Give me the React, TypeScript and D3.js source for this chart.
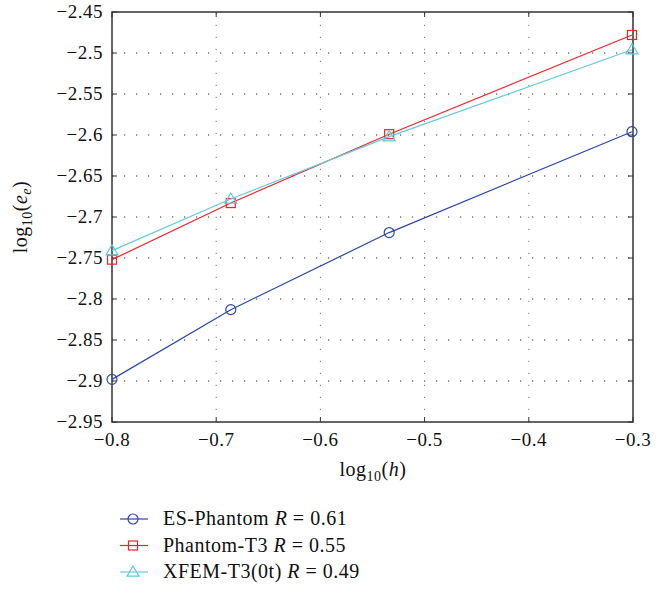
import React from "react";
import * as d3 from "d3";

const xValues = [-0.8, -0.686, -0.534, -0.301];
const esPhantom = [-2.898, -2.813, -2.719, -2.596];
const phantomT3 = [-2.752, -2.683, -2.599, -2.478];
const xfemT3 = [-2.741, -2.678, -2.602, -2.496];
const xTicks = [-0.8, -0.7, -0.6, -0.5, -0.4, -0.3];
const yTicks = [-2.45, -2.5, -2.55, -2.6, -2.65, -2.7, -2.75, -2.8, -2.85, -2.9, -2.95];
const seriesNames = ["ES-Phantom", "Phantom-T3", "XFEM-T3(0t)"];
const seriesR = ["0.61", "0.55", "0.49"];

const W = 666, H = 589;
const L = 112, R = 633, T = 12, B = 422;
const FONT = "Liberation Serif, DejaVu Serif, Times New Roman, serif";
const AX = "#333";

const colors = ["#2b47a6", "#ee2328", "#62c9db"];
const markers = ["circle", "square", "triangle"];

function Marker({ type, x, y, color }: { type: string; x: number; y: number; color: string }) {
  if (type === "circle") return <circle cx={x} cy={y} r={5} fill="none" stroke={color} strokeWidth={1.2} />;
  if (type === "square") return <rect x={x - 4.5} y={y - 4.5} width={9} height={9} fill="none" stroke={color} strokeWidth={1.2} />;
  const s = 6;
  return <path d={`M${x},${y - s} L${x + s},${y + s * 0.7} L${x - s},${y + s * 0.7} Z`} fill="none" stroke={color} strokeWidth={1.2} />;
}

export default function App() {
  const x = d3.scaleLinear().domain([-0.8, -0.3]).range([L, R]);
  const y = d3.scaleLinear().domain([-2.95, -2.45]).range([B, T]);
  const data = [esPhantom, phantomT3, xfemT3];
  const line = d3.line<[number, number]>().x((d) => x(d[0])).y((d) => y(d[1]));
  const fmt = (v: number) => String(v).replace("-", "\u2212");

  return (
    <svg width={W} height={H} style={{ position: "absolute", left: 0, top: 0 }} fontFamily={FONT}>
      <rect width={W} height={H} fill="#fff" />
      {yTicks.slice(1, -1).map((t) => (
        <line key={"gy" + t} x1={L} x2={R} y1={y(t)} y2={y(t)} stroke="#222" strokeWidth={1} strokeDasharray="1.2,10.8" />
      ))}
      {xTicks.slice(1, -1).map((t) => (
        <line key={"gx" + t} x1={x(t)} x2={x(t)} y1={B} y2={T} stroke="#777" strokeWidth={1} strokeDasharray="1.2,10.8" />
      ))}
      {xTicks.map((t) => (
        <g key={"tx" + t}>
          <line x1={x(t)} x2={x(t)} y1={B} y2={B - 5} stroke={AX} />
          <line x1={x(t)} x2={x(t)} y1={T} y2={T + 5} stroke={AX} />
          <text x={x(t)} y={446} textAnchor="middle" fontSize={19} letterSpacing={0.5} fill="#111" fontFamily={FONT}>{fmt(t)}</text>
        </g>
      ))}
      {yTicks.map((t) => (
        <g key={"ty" + t}>
          <line x1={L} x2={L + 5} y1={y(t)} y2={y(t)} stroke={AX} />
          <line x1={R} x2={R - 5} y1={y(t)} y2={y(t)} stroke={AX} />
          <text x={103} y={y(t) + 6} textAnchor="end" fontSize={19} letterSpacing={0.5} fill="#111" fontFamily={FONT}>{fmt(t)}</text>
        </g>
      ))}
      <rect x={L} y={T} width={R - L} height={B - T} fill="none" stroke={AX} strokeWidth={1.5} />
      {data.map((vals, i) => {
        const pts = xValues.map((xv, j) => [xv, vals[j]] as [number, number]);
        return (
          <g key={"s" + i}>
            <path d={line(pts) || ""} fill="none" stroke={colors[i]} strokeWidth={1.2} />
            {pts.map((p, j) => (
              <Marker key={j} type={markers[i]} x={x(p[0])} y={y(p[1])} color={colors[i]} />
            ))}
          </g>
        );
      })}
      <text x={373} y={476} textAnchor="middle" fontSize={20} letterSpacing={0.5} fill="#111" fontFamily={FONT}>
        log<tspan fontSize={14} dy={5}>10</tspan><tspan dy={-5}>(</tspan><tspan fontStyle="italic">h</tspan>)
      </text>
      <text transform={`translate(27,${217}) rotate(-90)`} textAnchor="middle" fontSize={20} letterSpacing={0.5} fill="#111" fontFamily={FONT}>
        log<tspan fontSize={14} dy={5}>10</tspan><tspan dy={-5}>(</tspan><tspan fontStyle="italic">e</tspan><tspan fontStyle="italic" fontSize={14} dy={4}>e</tspan><tspan dy={-4}>)</tspan>
      </text>
      {seriesNames.map((n, i) => {
        const ly = 519 + i * 26.5;
        return (
          <g key={"l" + i}>
            <line x1={120} x2={148} y1={ly} y2={ly} stroke={colors[i]} strokeWidth={1.2} />
            <Marker type={markers[i]} x={133} y={ly} color={colors[i]} />
            <text x={163} y={ly + 6} fontSize={20} letterSpacing={0.5} fill="#111" fontFamily={FONT}>
              {n} <tspan fontStyle="italic">R</tspan> = {seriesR[i]}
            </text>
          </g>
        );
      })}
    </svg>
  );
}
